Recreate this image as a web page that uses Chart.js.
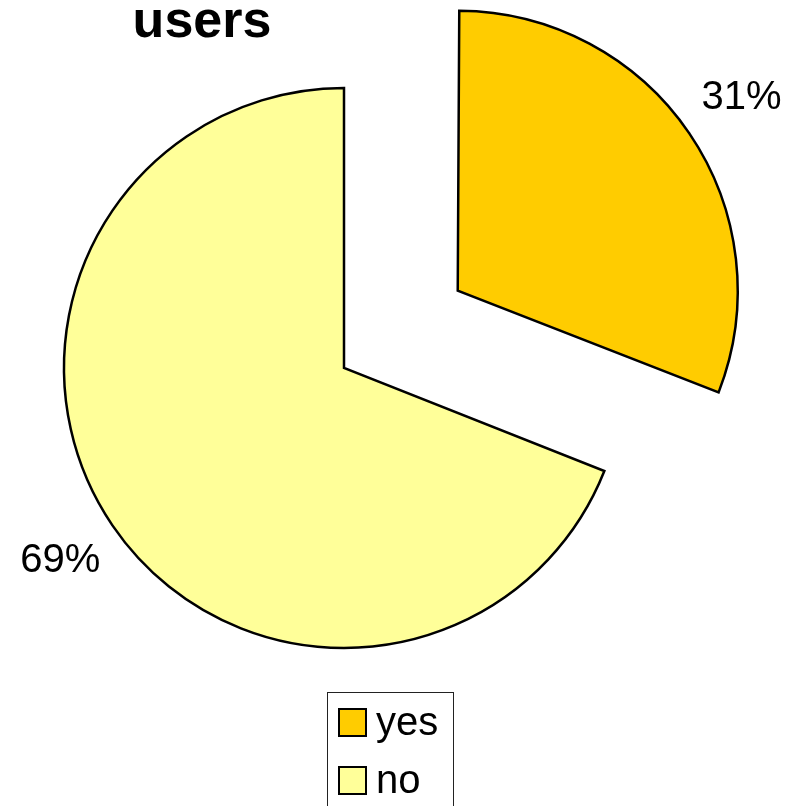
<!DOCTYPE html>
<html>
<head>
<meta charset="utf-8">
<title>users</title>
<script src="https://cdn.jsdelivr.net/npm/chart.js@4.4.1/dist/chart.umd.min.js"></script>
<style>
  html, body { margin: 0; padding: 0; background: #fff; }
  canvas { display: block; }
</style>
</head>
<body>
<canvas id="pieChart" width="789" height="806"></canvas>
<script>
const categories = ['yes', 'no'];
const shares = [31, 69];
const sliceColors = ['#FFCC00', '#FFFF99'];
const chartTitle = 'users';

const FONT = "'Liberation Sans', Arial, sans-serif";
const RADIUS = 280;

// Chart.js moves an exploded slice by offset/4 and also grows its radius a bit,
// put the radius back so both slices are the same size
const keepRadius = {
  id: 'keepRadius',
  beforeDatasetsDraw(chart) {
    chart.getDatasetMeta(0).data.forEach(arc => {
      const shift = (arc.options.offset || 0) / 4;
      const fix = 1 - Math.sin(Math.min(Math.PI, arc.circumference));
      arc.outerRadius = RADIUS - shift * fix;
    });
  }
};

// percentage labels outside each slice
const pctLabels = {
  id: 'pctLabels',
  afterDatasetsDraw(chart) {
    const ctx = chart.ctx;
    const total = shares.reduce((a, b) => a + b, 0);
    ctx.save();
    ctx.font = '40px ' + FONT;
    ctx.fillStyle = '#000';
    ctx.textAlign = 'center';
    ctx.textBaseline = 'middle';
    chart.getDatasetMeta(0).data.forEach((arc, i) => {
      const mid = (arc.startAngle + arc.endAngle) / 2;
      const dist = (arc.options.offset || 0) / 4 + RADIUS * 1.225;
      const label = Math.round(shares[i] / total * 100) + '%';
      ctx.fillText(label, arc.x + Math.cos(mid) * dist, arc.y + Math.sin(mid) * dist);
    });
    ctx.restore();
  }
};

// title and boxed legend
const frame = {
  id: 'frame',
  afterDraw(chart) {
    const ctx = chart.ctx;
    ctx.save();
    ctx.font = 'bold 52px ' + FONT;
    ctx.fillStyle = '#000';
    ctx.textAlign = 'center';
    ctx.textBaseline = 'alphabetic';
    ctx.fillText(chartTitle, 202, 37);

    ctx.strokeStyle = '#222';
    ctx.lineWidth = 1;
    ctx.strokeRect(327.5, 692.5, 126, 140);

    ctx.font = '40px ' + FONT;
    ctx.textAlign = 'left';
    categories.forEach((name, i) => {
      const top = 709 + i * 58;
      ctx.fillStyle = sliceColors[i];
      ctx.fillRect(339, top, 27, 27);
      ctx.lineWidth = 2;
      ctx.strokeStyle = '#000';
      ctx.strokeRect(339, top, 27, 27);
      ctx.fillStyle = '#000';
      ctx.fillText(name, 376, top + 26);
    });
    ctx.restore();
  }
};

new Chart(document.getElementById('pieChart'), {
  type: 'pie',
  data: {
    labels: categories,
    datasets: [{
      data: shares,
      backgroundColor: sliceColors,
      borderColor: '#000',
      borderWidth: 2.5,
      borderJoinStyle: 'miter',
      offset: [550, 0],
      radius: RADIUS,
      clip: false
    }]
  },
  options: {
    responsive: false,
    animation: false,
    events: [],
    layout: { padding: { left: 0, right: 101, top: 0, bottom: 70 } },
    plugins: {
      legend: { display: false },
      title: { display: false },
      tooltip: { enabled: false }
    }
  },
  plugins: [keepRadius, pctLabels, frame]
});
</script>
</body>
</html>
